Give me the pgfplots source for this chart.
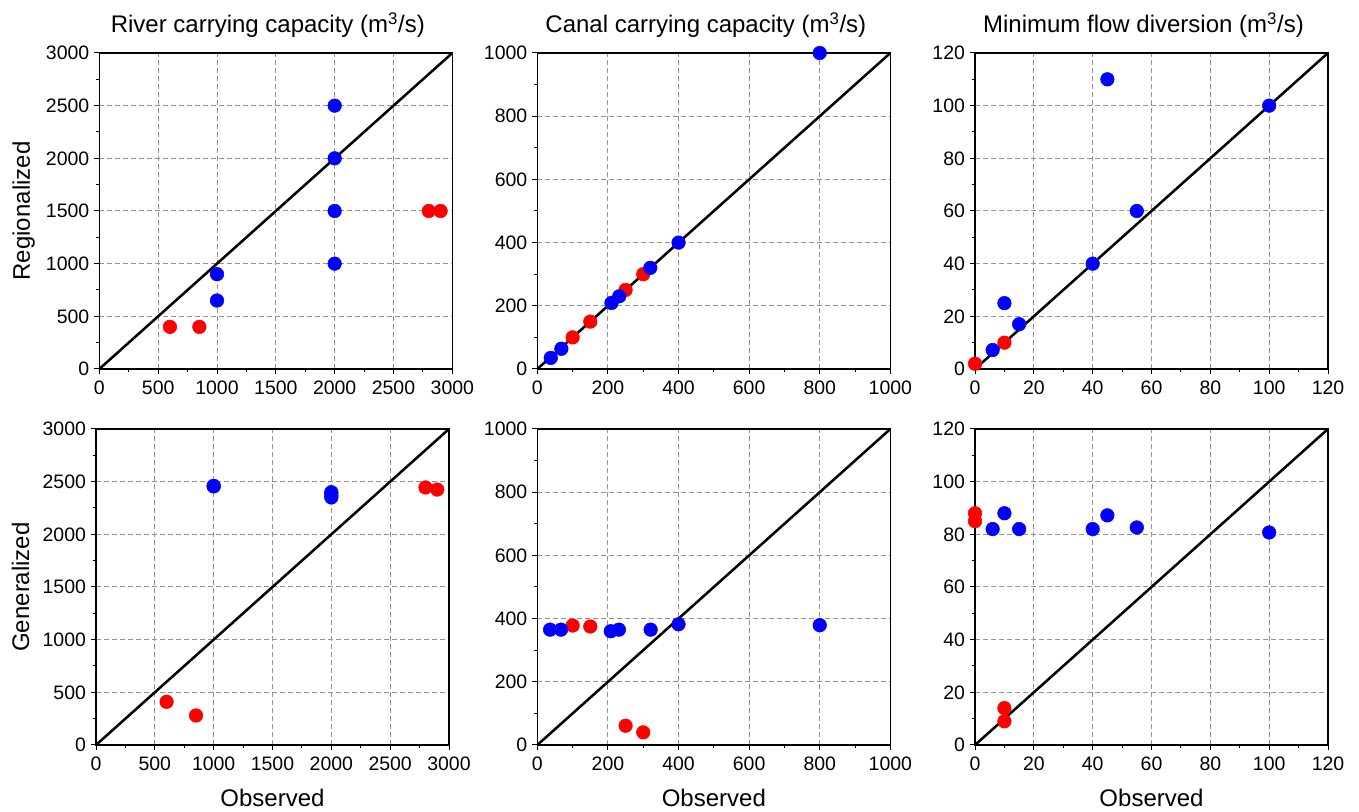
\documentclass[border=0pt]{standalone}
\usepackage{fontspec}
\setmainfont{Liberation Sans}
\usepackage{pgfplots}
\pgfplotsset{compat=1.18}
\definecolor{pblue}{RGB}{0,0,255}
\definecolor{pred}{RGB}{255,0,0}
\pgfplotsset{
  panel/.style={
    scale only axis, width=264.75pt, height=237pt, anchor=south west,
    axis line style={black, line width=0.9pt},
    tick align=outside, tick pos=left,
    major tick length=4pt, minor tick length=2.5pt,
    tick style={black, line width=0.75pt},
    minor tick num=1,
    grid=major, major grid style={gray!85, dash pattern=on 3.5pt off 2.5pt, line width=0.75pt},
    ticklabel style={font=\fontsize{14.6}{17}\selectfont},
    xticklabel style={yshift=-1.5pt},
    /pgf/number format/assume math mode=true,
    /pgf/number format/1000 sep={},
    label style={font=\fontsize{18}{21}\selectfont},
    title style={font=\fontsize{18}{21}\selectfont, anchor=base, at={(0.5,1)}, yshift=9pt, xshift=-6pt},
    ylabel style={at={(axis description cs:-0.214,0.5)}, anchor=center},
    xlabel style={at={(axis description cs:0.5,0)}, anchor=base, yshift=-46.5pt},
    xmin=0, ymin=0,
  },
  bpts/.style={only marks, mark=*, mark size=5.1pt, color=pblue},
  rpts/.style={only marks, mark=*, mark size=5.1pt, color=pred},
  diag/.style={black, line width=1.9pt, no marks},
}
\begin{document}
\begin{tikzpicture}
\path[use as bounding box] (0,0) rectangle (1019.25pt,609pt);
% Panel 1
\begin{axis}[panel, at={(74.5pt,332.25pt)}, xmax=3000, ymax=3000, xtick distance=500, ytick distance=500,
  title={River carrying capacity (m\textsuperscript{3}/s)}, ylabel={Regionalized}]
\addplot[diag] coordinates {(0,0) (3000,3000)};
\addplot[rpts] coordinates {(600,400) (850,400) (2800,1500) (2900,1500)};
\addplot[bpts] coordinates {(2000,2500) (2000,2000) (2000,1500) (2000,1000) (1000,900) (1000,650)};
\end{axis}
% Panel 2
\begin{axis}[panel, at={(403pt,332.25pt)}, xmax=1000, ymax=1000, xtick distance=200, ytick distance=200,
  title={Canal carrying capacity (m\textsuperscript{3}/s)}]
\addplot[diag] coordinates {(0,0) (1000,1000)};
\addplot[rpts] coordinates {(100,100) (150,150) (250,250) (300,300)};
\addplot[bpts] coordinates {(38,35) (68,64) (210,209) (232,230) (320,320) (400,400) (800,1000)};
\end{axis}
% Panel 3
\begin{axis}[panel, at={(731.25pt,332.25pt)}, xmax=120, ymax=120, xtick distance=20, ytick distance=20,
  title={Minimum flow diversion (m\textsuperscript{3}/s)}]
\addplot[diag] coordinates {(0,0) (120,120)};
\addplot[rpts] coordinates {(0,2) (10,10)};
\addplot[bpts] coordinates {(6,7.2) (10,25) (15,17) (40,40) (55,60) (45,110) (100,100)};
\end{axis}
% Panel 4
\begin{axis}[panel, at={(72pt,50.25pt)}, xmax=3000, ymax=3000, xtick distance=500, ytick distance=500,
  ylabel={Generalized}, xlabel={Observed}]
\addplot[diag] coordinates {(0,0) (3000,3000)};
\addplot[rpts] coordinates {(600,410) (850,280) (2800,2445) (2900,2425)};
\addplot[bpts] coordinates {(1000,2460) (1000,2455) (2000,2400) (2000,2385) (2000,2365) (2000,2350)};
\end{axis}
% Panel 5
\begin{axis}[panel, at={(403pt,50.25pt)}, xmax=1000, ymax=1000, xtick distance=200, ytick distance=200,
  xlabel={Observed}]
\addplot[diag] coordinates {(0,0) (1000,1000)};
\addplot[rpts] coordinates {(100,378) (150,375) (250,61) (300,40)};
\addplot[bpts] coordinates {(36,365) (67,365) (208,360) (231,365) (321,365) (400,382) (800,379)};
\end{axis}
% Panel 6
\begin{axis}[panel, at={(731.25pt,50.25pt)}, xmax=120, ymax=120, xtick distance=20, ytick distance=20,
  xlabel={Observed}]
\addplot[diag] coordinates {(0,0) (120,120)};
\addplot[rpts] coordinates {(0,85) (0,88) (10,14) (10,9)};
\addplot[bpts] coordinates {(6,82) (10,88) (15,82) (40,82) (45,87.2) (55,82.6) (100,80.7)};
\end{axis}
\end{tikzpicture}
\end{document}
